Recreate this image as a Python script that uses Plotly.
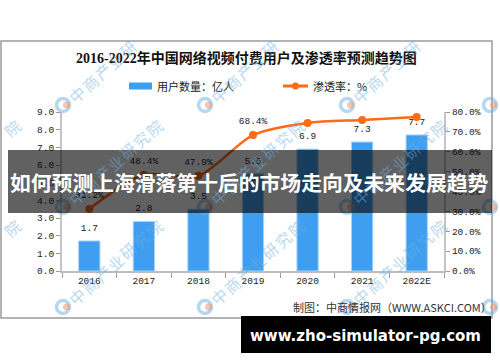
import plotly.graph_objects as go

# ---------------- data ----------------
years = ["2016", "2017", "2018", "2019", "2020", "2021", "2022E"]
users = [1.7, 2.8, 3.5, 5.5, 6.9, 7.3, 7.7]              # 亿人
penetration = [31.2, 48.4, 47.9, 68.4, 74.5, 76.0, 77.5]  # %
user_labels = [f"{v:.1f}" for v in users]
pen_labels = [f"{v:.1f}%" for v in penetration]
left_ticks = [0, 1, 2, 3, 4, 5, 6, 7, 8, 9]
right_ticks = [0, 10, 20, 30, 40, 50, 60, 70, 80]

title_text = "2016-2022年中国网络视频付费用户及渗透率预测趋势图"
legend_bar = "用户数量：亿人"
legend_line = "渗透率：%"
source_text = "制图：中商情报网（WWW.ASKCI.COM）"
banner_text = "如何预测上海滑落第十后的市场走向及未来发展趋势"
footer_text = "www.zho-simulator-pg.com"
watermark = "中商产业研究院"

# ---------------- geometry helpers ----------------
W, H = 500, 362
PL, PR, PT, PB = 62, 444, 112, 271   # plot area in pixels


def fx(px):
    return (px - PL) / (PR - PL)


def fy(py):
    return (PB - py) / (PB - PT)


BAR_COLOR = "#3f9ef0"
LINE_COLOR = "#ff6a14"
MONO = "Liberation Mono, DejaVu Sans Mono, monospace"
CJK = "Noto Sans CJK SC, sans-serif"

fig = go.Figure()

fig.add_trace(go.Bar(
    x=years, y=users, name=legend_bar, width=0.39,
    marker=dict(color=BAR_COLOR, line=dict(color="#a9d3f7", width=1)),
    yaxis="y", showlegend=False, hoverinfo="x+y",
))
fig.add_trace(go.Scatter(
    x=years, y=users, mode="markers+text", text=user_labels,
    textposition="top center", marker=dict(size=11, opacity=0),
    textfont=dict(family=MONO, size=9.5, color="#222"),
    yaxis="y", showlegend=False, hoverinfo="skip",
))
fig.add_trace(go.Scatter(
    x=years, y=penetration, name=legend_line, mode="lines+markers",
    line=dict(color=LINE_COLOR, width=2.5, shape="spline", smoothing=0.8),
    marker=dict(color=LINE_COLOR, size=8),
    yaxis="y2", showlegend=False,
))
fig.add_trace(go.Scatter(
    x=years, y=penetration, mode="markers+text", text=pen_labels,
    textposition="top center", marker=dict(size=12, opacity=0),
    textfont=dict(family=MONO, size=9.5, color="#222"),
    yaxis="y2", showlegend=False, hoverinfo="skip",
))

shapes = []
annotations = []

# chart frame
shapes.append(dict(type="rect", xref="paper", yref="paper", layer="below",
                   x0=fx(1), x1=fx(492), y0=fy(41), y1=fy(318),
                   line=dict(color="#9a9a9a", width=1.5)))

# title
annotations.append(dict(xref="paper", yref="paper", x=fx(246), y=fy(58),
                        text="<b>" + title_text + "</b>", showarrow=False,
                        xanchor="center", yanchor="middle",
                        font=dict(family="Liberation Serif, " + CJK, size=14, color="#111")))

# custom legend
shapes.append(dict(type="rect", xref="paper", yref="paper", layer="above",
                   x0=fx(129), x1=fx(152), y0=fy(89.5), y1=fy(82.5),
                   fillcolor=BAR_COLOR, line=dict(width=0)))
annotations.append(dict(xref="paper", yref="paper", x=fx(155), y=fy(86),
                        text=legend_bar, showarrow=False, xanchor="left", yanchor="middle",
                        font=dict(family=CJK, size=11, color="#222")))
shapes.append(dict(type="line", xref="paper", yref="paper", layer="above",
                   x0=fx(283), x1=fx(308), y0=fy(86), y1=fy(86),
                   line=dict(color=LINE_COLOR, width=3)))
shapes.append(dict(type="circle", xref="paper", yref="paper", layer="above",
                   x0=fx(292), x1=fx(299), y0=fy(89.5), y1=fy(82.5),
                   fillcolor=LINE_COLOR, line=dict(width=0)))
annotations.append(dict(xref="paper", yref="paper", x=fx(311), y=fy(86),
                        text=legend_line, showarrow=False, xanchor="left", yanchor="middle",
                        font=dict(family=CJK, size=11, color="#222")))

# source
annotations.append(dict(xref="paper", yref="paper", x=fx(291), y=fy(307),
                        text=source_text, showarrow=False, xanchor="left", yanchor="middle",
                        font=dict(family=CJK, size=11, color="#333")))

# watermarks (logo + diagonal text), kept inside the frame
logo_xs = [-79, 63, 205, 347, 490]
logo_ys = [105, 207, 307]
for lx in logo_xs:
    for ly in logo_ys:
        if 4 < lx < 492 and 46 < ly < 314:
            shapes.append(dict(type="circle", xref="paper", yref="paper", layer="above",
                               x0=fx(lx - 6.5), x1=fx(lx + 6.5), y0=fy(ly + 6.5), y1=fy(ly - 6.5),
                               line=dict(color="rgba(110,175,225,0.5)", width=3.5)))
            shapes.append(dict(type="circle", xref="paper", yref="paper", layer="above",
                               x0=fx(lx), x1=fx(lx + 7), y0=fy(ly + 3.5), y1=fy(ly - 3.5),
                               fillcolor="rgba(240,140,100,0.5)", line=dict(width=0)))
        for i, ch in enumerate(watermark):
            cx = lx + 14 + i * 12.8
            cy = ly - 11 - i * 11.4
            if 6 < cx < 488 and 48 < cy < 312:
                annotations.append(dict(xref="paper", yref="paper", x=fx(cx), y=fy(cy),
                                        text=ch, showarrow=False, textangle=-42,
                                        xanchor="center", yanchor="middle",
                                        font=dict(family=CJK, size=15.5,
                                                  color="rgba(110,175,225,0.5)")))

# dark banner
shapes.append(dict(type="rect", xref="paper", yref="paper", layer="above",
                   x0=fx(8), x1=fx(492), y0=fy(213), y1=fy(150),
                   fillcolor="rgba(0,0,0,0.62)", line=dict(width=0)))
annotations.append(dict(xref="paper", yref="paper", x=fx(249), y=fy(182),
                        text="<b>" + banner_text + "</b>", showarrow=False,
                        xanchor="center", yanchor="middle",
                        font=dict(family=CJK, size=20.8, color="white")))

# footer black box
shapes.append(dict(type="rect", xref="paper", yref="paper", layer="above",
                   x0=fx(241), x1=fx(491), y0=fy(353), y1=fy(316),
                   fillcolor="black", line=dict(width=0)))
annotations.append(dict(xref="paper", yref="paper", x=fx(248), y=fy(336),
                        text="<b>" + footer_text + "</b>", showarrow=False,
                        xanchor="left", yanchor="middle",
                        font=dict(family="DejaVu Sans, sans-serif", size=15, color="white")))

fig.update_layout(
    width=W, height=H,
    margin=dict(l=PL, r=W - PR, t=PT, b=H - PB, autoexpand=False),
    paper_bgcolor="white", plot_bgcolor="white",
    showlegend=False,
    xaxis=dict(type="category", showline=True, linecolor="#bdbdbd", linewidth=2,
               ticks="outside", tickson="boundaries", ticklen=5, tickcolor="#9a9a9a",
               tickfont=dict(family=MONO, size=9.5, color="#222"), showgrid=False),
    yaxis=dict(range=[0, 9], tickvals=left_ticks, ticktext=[f"{v:.1f}" for v in left_ticks],
               showline=True, linecolor="#c4c4c4", linewidth=2, ticks="outside",
               ticklen=4, tickcolor="#9a9a9a", showgrid=False, zeroline=False,
               tickfont=dict(family=MONO, size=9.5, color="#222")),
    yaxis2=dict(range=[0, 80], tickvals=right_ticks,
                ticktext=[f"{v:.1f}%" for v in right_ticks],
                overlaying="y", side="right", showline=True, linecolor="#c4c4c4",
                linewidth=2, ticks="outside", ticklen=4, tickcolor="#9a9a9a",
                showgrid=False, zeroline=False,
                tickfont=dict(family=MONO, size=9.5, color="#222")),
    shapes=shapes, annotations=annotations,
)

fig.write_html(
    "out.html",
    config={"displayModeBar": False},
    post_script="document.body.style.margin='0';document.body.style.padding='0';",
)
